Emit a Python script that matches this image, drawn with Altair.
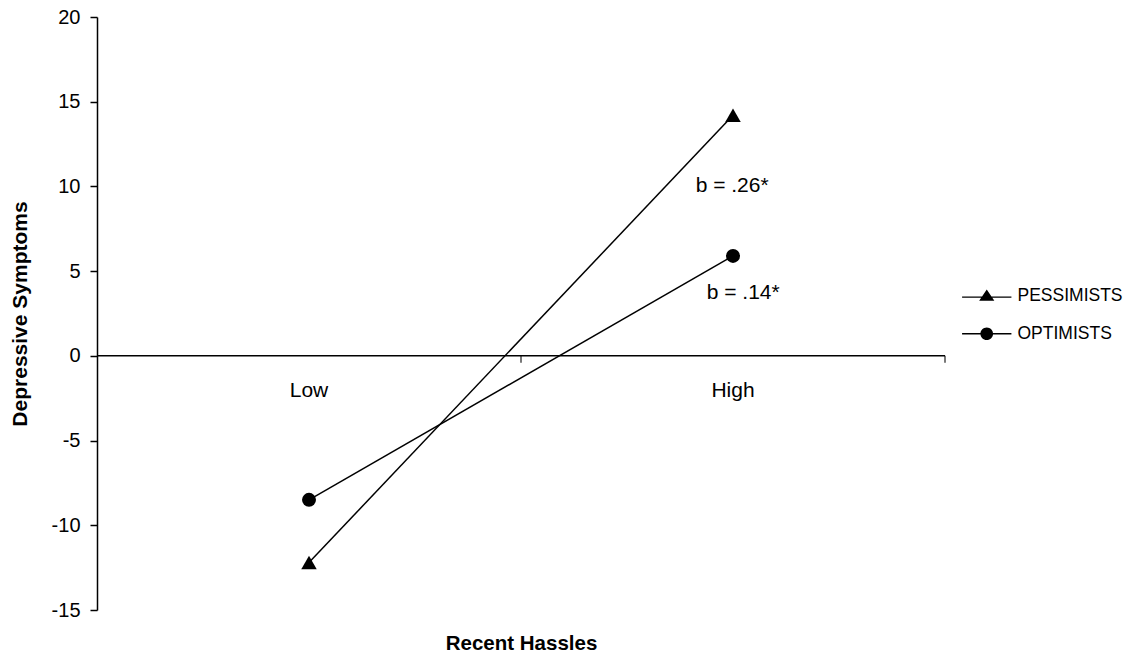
import altair as alt
import pandas as pd

groups = ["PESSIMISTS", "PESSIMISTS", "OPTIMISTS", "OPTIMISTS"]
x_pos = [0.5, 1.5, 0.5, 1.5]
symptoms = [-12.2, 14.2, -8.5, 5.9]

cat_labels = ["Low", "High"]
cat_x = [0.5, 1.5]
axis_tick_x = [1.0, 2.0]

ann_text = ["b = .26*", "b = .14*"]
ann_x = [1.498, 1.524]
ann_y = [10.0, 3.7]

y_ticks = [-15, -10, -5, 0, 5, 10, 15, 20]
legend_order = ["PESSIMISTS", "OPTIMISTS"]

FONT = "Liberation Sans"

df = pd.DataFrame({"group": groups, "x": x_pos, "y": symptoms})
cats = pd.DataFrame({"label": cat_labels, "x": cat_x, "y": [0, 0]})
ann = pd.DataFrame({"text": ann_text, "x": ann_x, "y": ann_y})
zero = pd.DataFrame({"x": [0.0], "x2": [2.0], "y": [0.0]})
ticks = pd.DataFrame({"x": axis_tick_x, "y": [0.0, 0.0]})

xs = alt.Scale(domain=[0, 2], nice=False, zero=False)
ys = alt.Scale(domain=[-15, 20], nice=False)

x_enc = alt.X("x:Q", scale=xs, axis=alt.Axis(
    title="Recent Hassles", labels=False, ticks=False, domain=False, grid=False,
    titleFont=FONT, titleFontSize=20.5, titleFontWeight="bold", titleColor="black",
    titlePadding=23))
y_enc = alt.Y("y:Q", scale=ys, axis=alt.Axis(
    title="Depressive Symptoms", values=y_ticks, grid=False, domainColor="black",
    domainWidth=1.5, tickColor="black", tickWidth=1.5, tickSize=7, labelPadding=10,
    labelExpr="'' + datum.value",
    labelFont=FONT, labelFontSize=20, labelColor="black",
    titleFont=FONT, titleFontSize=21, titleFontWeight="bold", titleColor="black",
    titlePadding=21))

zero_line = alt.Chart(zero).mark_rule(color="black", strokeWidth=1.5).encode(
    x=x_enc, x2="x2:Q", y=y_enc)

xticks = alt.Chart(ticks).mark_tick(color="black", orient="vertical", size=7,
                                    thickness=1.5, yOffset=3.5).encode(
    x=alt.X("x:Q", scale=xs), y=alt.Y("y:Q", scale=ys))

cat_text = alt.Chart(cats).mark_text(font=FONT, fontSize=21, color="black",
                                      dy=35, baseline="middle").encode(
    x=alt.X("x:Q", scale=xs), y=alt.Y("y:Q", scale=ys), text="label:N")

lines = alt.Chart(df).mark_line(color="black", strokeWidth=1.5).encode(
    x=alt.X("x:Q", scale=xs), y=alt.Y("y:Q", scale=ys), detail="group:N")

points = alt.Chart(df).mark_point(filled=True, color="black", opacity=1).encode(
    x=alt.X("x:Q", scale=xs), y=alt.Y("y:Q", scale=ys),
    shape=alt.Shape("group:N", scale=alt.Scale(domain=legend_order,
                                               range=["triangle-up", "circle"]),
                    legend=None),
    size=alt.Size("group:N", scale=alt.Scale(domain=legend_order, range=[240, 196]),
                  legend=None))

# legend glyphs: a thin filled bar (the line) plus the marker
tri_path = "M-3.9,0.12H3.9V0.32H-3.9Z M0,-1L1.2,0.8H-1.2Z"
circ_path = "M-3.9,-0.1H3.9V0.1H-3.9Z M1,0A1,1,0,1,1,-1,0A1,1,0,1,1,1,0Z"

legend_layer = alt.Chart(df).transform_filter("false").mark_point(
    filled=True, color="black", opacity=1, size=160).encode(
    x=alt.X("x:Q", scale=xs), y=alt.Y("y:Q", scale=ys),
    shape=alt.Shape("group:N", scale=alt.Scale(domain=legend_order,
                                               range=[tri_path, circ_path]),
                    legend=alt.Legend(title=None, orient="none", legendX=881,
                                      legendY=270, labelFont=FONT, labelFontSize=17.5,
                                      labelColor="black", labelOffset=22,
                                      rowPadding=19, symbolFillColor="black",
                                      symbolSize=160, symbolOpacity=1)))

ann_text_layer = alt.Chart(ann).mark_text(font=FONT, fontSize=21, color="black",
                                         baseline="middle").encode(
    x=alt.X("x:Q", scale=xs), y=alt.Y("y:Q", scale=ys), text="text:N")

chart = alt.layer(zero_line, xticks, cat_text, lines, points, ann_text_layer,
                  legend_layer).resolve_scale(shape="independent",
                                              size="independent").properties(
    width=848, height=593,
    background="white",
    autosize=alt.AutoSizeParams(type="none"),
    padding={"left": 89, "top": 9, "right": 180, "bottom": 43},
).configure_view(stroke=None, strokeWidth=0)

chart.save("out.html", embed_options={"renderer": "svg", "actions": False})
